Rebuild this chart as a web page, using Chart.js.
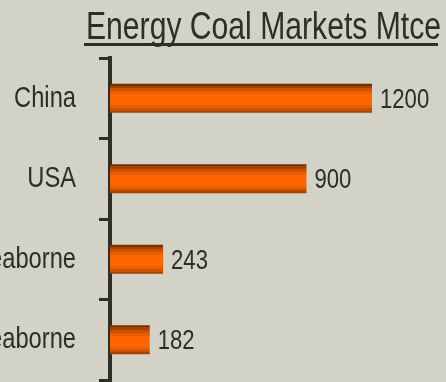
<!DOCTYPE html>
<html>
<head>
<meta charset="utf-8">
<script src="https://cdn.jsdelivr.net/npm/chart.js@4"></script>
<style>
  body { margin: 0; background: #d2d2c6; }
  canvas { display: block; }
</style>
</head>
<body>
<canvas id="coalChart" width="446" height="382"></canvas>
<script>
const chartTitle = 'Energy Coal Markets Mtce';
const markets = ['China', 'USA', 'Pacific Seaborne', 'Atlantic Seaborne'];
const mtce = [1200, 900, 243, 182];

const sans = "'Liberation Sans', Arial, sans-serif";
const ink = '#2b2e29';
const squeeze = 0.79;   // narrow look for all lettering

// striped orange fill across the thickness of each bar
function barFill(c) {
    const chart = c.chart;
    if (!chart.chartArea || !chart.scales.y) return '#ff6600';
    const mid = chart.scales.y.getPixelForValue(c.dataIndex);
    const half = 15;
    const g = chart.ctx.createLinearGradient(0, mid - half, 0, mid + half);
    const bands = [
        [0, '#7a2f00'], [0.08, '#a54200'], [0.17, '#cc5200'],
        [0.27, '#ea5e00'], [0.37, '#ff6600'], [0.63, '#ff6600'],
        [0.73, '#ea5e00'], [0.83, '#cc5200'], [0.92, '#a54200'], [1, '#7a2f00']
    ];
    for (let i = 0; i < bands.length; i++) {
        g.addColorStop(bands[i][0], bands[i][1]);
        if (i + 1 < bands.length) g.addColorStop(bands[i + 1][0] - 0.0001, bands[i][1]);
    }
    return g;
}

function narrowText(ctx, text, x, y, size, align) {
    ctx.font = size + 'px ' + sans;
    ctx.textAlign = align;
    const w = ctx.measureText(text).width * squeeze;
    ctx.fillText(text, x, y, w);
}

const decorations = {
    id: 'decorations',
    beforeDraw(chart) {
        const ctx = chart.ctx;
        ctx.save();
        ctx.fillStyle = '#d2d2c6';
        ctx.fillRect(0, 0, chart.width, chart.height);
        // underlined heading
        ctx.fillStyle = ink;
        ctx.font = '39px ' + sans;
        ctx.textBaseline = 'alphabetic';
        ctx.textAlign = 'left';
        ctx.fillText(chartTitle, 86, 39, 355);
        ctx.fillRect(84, 43, 354, 3);
        ctx.restore();
    },
    afterDraw(chart) {
        const ctx = chart.ctx;
        const y = chart.scales.y;
        ctx.save();
        ctx.fillStyle = ink;
        ctx.textBaseline = 'middle';
        markets.forEach((name, i) => {
            narrowText(ctx, name, 76, y.getPixelForValue(i), 30, 'right');
        });
        chart.getDatasetMeta(0).data.forEach((bar, i) => {
            narrowText(ctx, String(mtce[i]), bar.x + 8, bar.y + 2, 28, 'left');
        });
        ctx.restore();
    }
};

new Chart(document.getElementById('coalChart'), {
    type: 'bar',
    data: {
        labels: markets,
        datasets: [{
            data: mtce,
            backgroundColor: barFill,
            borderWidth: 0,
            barPercentage: 0.36,
            categoryPercentage: 1
        }]
    },
    options: {
        indexAxis: 'y',
        responsive: false,
        animation: false,
        devicePixelRatio: 1,
        layout: { padding: { top: 58, right: 74, bottom: 2, left: 0 } },
        plugins: {
            legend: { display: false },
            tooltip: { enabled: false }
        },
        scales: {
            x: {
                display: false,
                min: 0,
                max: 1200
            },
            y: {
                afterFit(scale) {
                    scale.width = 110;
                    scale.paddingTop = 0;
                    scale.paddingBottom = 0;
                },
                border: { display: true, color: ink, width: 4 },
                grid: {
                    offset: true,
                    drawOnChartArea: false,
                    drawTicks: true,
                    tickLength: 11,
                    color: ink,
                    lineWidth: 3
                },
                ticks: {
                    color: 'rgba(0,0,0,0)',
                    padding: 22,
                    font: { family: sans, size: 30 }
                }
            }
        }
    },
    plugins: [decorations]
});
</script>
</body>
</html>
